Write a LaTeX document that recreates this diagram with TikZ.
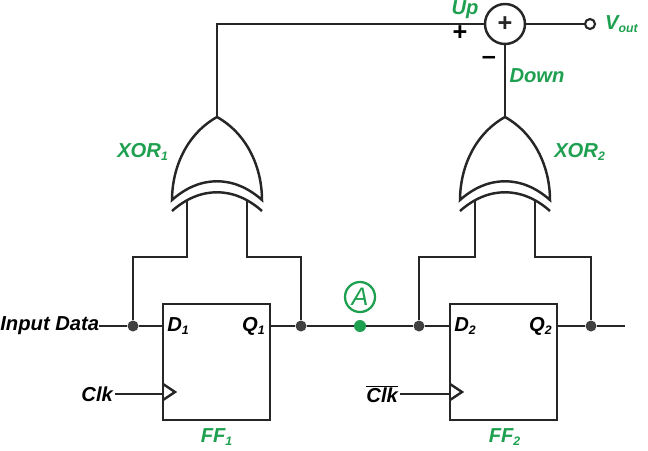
\documentclass[tikz,border=0pt]{standalone}
\usepackage{fontspec}
\setmainfont{Liberation Sans}
\usetikzlibrary{positioning}
\definecolor{sig}{RGB}{30,160,80}
\newlength{\pxu}\setlength{\pxu}{0.02cm}
\tikzset{
  wire/.style={line width=1.4pt,black!85},
  dot/.style={circle,fill=black!75,inner sep=0pt,minimum size=11\pxu},
  lbl/.style={font=\fontsize{11.5}{13}\bfseries\itshape,inner sep=1pt},
  glbl/.style={lbl,text=sig},
  ff/.style={draw,line width=1.4pt,black!85,minimum width=107\pxu,minimum height=116\pxu,inner sep=0pt},
  xorgate/.pic={
    \draw[wire] (0,0) .. controls (-32,18) and (-45,53) .. (-45,83)
      .. controls (-17,58) and (17,58) .. (45,83)
      .. controls (45,53) and (32,18) .. (0,0);
    \draw[wire] (-45,94) .. controls (-17,69) and (17,69) .. (45,94);
    \coordinate (-out) at (0,0);
    \coordinate (-a) at (-30,83);
    \coordinate (-b) at (30,83);
  }
}
\begin{document}
\begin{tikzpicture}[x=0.02cm,y=-0.02cm]
	\useasboundingbox (0,0) rectangle (648,450);
	
	% flip-flops
	\node [ff] (ff1) at (216.5,362) {};
	\node [ff] (ff2) at (503.5,362) {};
	\node [lbl,right=2pt] at (ff1.west |- 0,326) {D\textsubscript{\scriptsize 1}};
	\node [lbl,left=2pt] at (ff1.east |- 0,326) {Q\textsubscript{\scriptsize 1}};
	\node [lbl,right=2pt] at (ff2.west |- 0,326) {D\textsubscript{\scriptsize 2}};
	\node [lbl,left=2pt] at (ff2.east |- 0,326) {Q\textsubscript{\scriptsize 2}};
	\node [glbl] (ff1l) at (217,437) {FF\textsubscript{\scriptsize 1}};
	\node [glbl] (ff2l) at (505,437) {FF\textsubscript{\scriptsize 2}};
	\draw[wire] (163,384) -- (175,392) -- (163,400);
	\draw[wire] (450,384) -- (462,392) -- (450,400);
	
	% xor gates
	\pic (x1) at (217,117) {xorgate};
	\pic (x2) at (505,117) {xorgate};
	\node [glbl] at (143,152) {XOR\textsubscript{\scriptsize 1}};
	\node [glbl] at (580,152) {XOR\textsubscript{\scriptsize 2}};
	
	% summer
	\node [circle,draw,line width=1.4pt,black!85,minimum size=40\pxu,inner sep=0pt,font=\Large\bfseries] (sum) at (505,24) {+};
	\node [circle,draw,line width=1.2pt,black!85,minimum size=10\pxu,inner sep=0pt] (vo) at (590,24) {};
	\node [glbl,right=4pt of vo] {V\textsubscript{\scriptsize out}};
	\node [glbl] at (465,10) {Up};
	\node [lbl,font=\Large\bfseries] at (460,33) {+};
	\node [lbl,font=\Large\bfseries] at (489,60) {--};
	\node [glbl] at (537,76) {Down};
	
	% junctions
	\node [dot] (j1) at (133,326) {};
	\node [dot] (j2) at (301,326) {};
	\node [dot] (j3) at (419,326) {};
	\node [dot] (j4) at (591,326) {};
	\node [circle,fill=sig,inner sep=0pt,minimum size=12\pxu] (pa) at (360,326) {};
	\node [circle,draw=sig,line width=1.3pt,text=sig,minimum size=30\pxu,inner sep=0pt,font=\Large\itshape] (pal) at (360,297) {A};
	
	% inputs
	\node [lbl,anchor=west,inner sep=0pt] (in) at (0,326) {Input Data};
	\node [lbl,left=0pt] (clk) at (115,394) {Clk};
	\node [lbl,left=0pt] (nclk) at (400,394) {$\overline{\mbox{\fontsize{11.5}{13}\bfseries\itshape Clk}}$};
	\coordinate (qout) at (625,326);
	
	\draw[wire] (in.east) -- (j1) -- (ff1.west |- j1);
	\draw[wire] (ff1.east |- j2) -- (j2) -- (pa) -- (j3) -- (ff2.west |- j3);
	\draw[wire] (ff2.east |- j4) -- (j4) -- (qout);
	\draw[wire] (clk.east) -- (ff1.west |- clk);
	\draw[wire] (nclk.east) -- (ff2.west |- nclk);
	\draw[wire] (j1) |- (133,257) -| (x1-a);
	\draw[wire] (j2) |- (247,257) -| (x1-b);
	\draw[wire] (j3) |- (419,257) -| (x2-a);
	\draw[wire] (j4) |- (591,257) -| (x2-b);
	\draw[wire] (x1-out) |- (sum.west);
	\draw[wire] (x2-out) -- (sum.south);
	\draw[wire] (sum.east) -- (vo.west);
\end{tikzpicture}
\end{document}
